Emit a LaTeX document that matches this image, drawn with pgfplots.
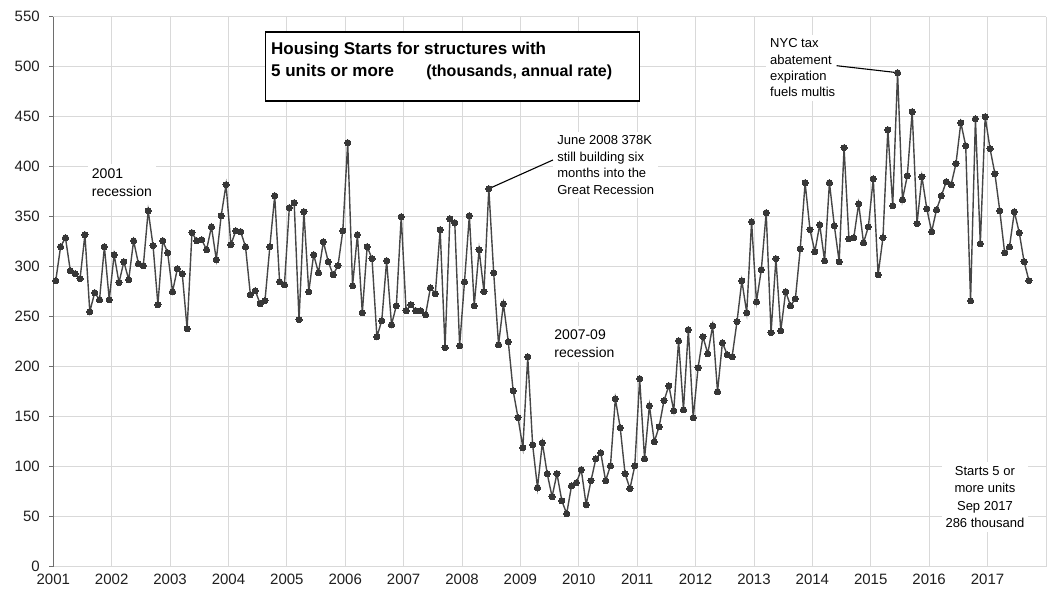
\documentclass[border=0pt]{standalone}
\usepackage{fontspec}
\setmainfont{Liberation Sans}
\usepackage{pgfplots}
\pgfplotsset{compat=1.18}
\usepackage{pgfplotstable}
\definecolor{gridgray}{RGB}{217,217,217}
\definecolor{axisgray}{RGB}{110,110,110}
\definecolor{linegray}{RGB}{70,70,70}
\definecolor{markgray}{RGB}{55,55,55}
\definecolor{textgray}{RGB}{30,30,30}

\pgfplotstableread[row sep=\\]{
v\\
286\\320\\329\\296\\293\\288\\332\\255\\274\\267\\320\\267\\
312\\284\\305\\287\\326\\303\\301\\356\\321\\262\\326\\314\\
275\\298\\293\\238\\334\\326\\327\\317\\340\\307\\351\\382\\
322\\336\\335\\320\\272\\276\\263\\266\\320\\371\\285\\282\\
359\\364\\247\\355\\275\\312\\294\\325\\305\\292\\301\\336\\
424\\281\\332\\254\\320\\308\\230\\246\\306\\242\\261\\350\\
256\\262\\256\\256\\252\\279\\273\\337\\219\\348\\344\\221\\
285\\351\\261\\317\\275\\378\\294\\222\\263\\225\\176\\149\\
119\\210\\122\\79\\124\\93\\70\\93\\66\\53\\81\\84\\
97\\62\\86\\108\\114\\86\\101\\168\\139\\93\\78\\101\\
188\\108\\161\\125\\140\\166\\181\\156\\226\\157\\237\\149\\
199\\230\\213\\241\\175\\224\\212\\210\\245\\286\\254\\345\\
265\\297\\354\\234\\308\\236\\275\\261\\268\\318\\384\\337\\
315\\342\\306\\384\\341\\305\\419\\328\\329\\363\\324\\340\\
388\\292\\329\\437\\361\\494\\367\\391\\455\\343\\390\\358\\
335\\357\\371\\385\\382\\403\\444\\421\\266\\448\\323\\450\\
418\\393\\356\\314\\320\\355\\334\\305\\286\\
}\starts

\begin{document}
\begin{tikzpicture}
\begin{axis}[
  name=ax,
  scale only axis,
  width=992.7pt, height=550pt,
  xmin=2001, xmax=2018, ymin=0, ymax=550,
  enlargelimits=false,
  clip=false,
  axis lines*=left,
  x axis line style={draw=gridgray, line width=0.8pt},
  y axis line style={draw=axisgray, line width=0.9pt},
  xtick={2001,2002,...,2017},
  extra x ticks={2018},
  extra x tick labels={},
  ytick={0,50,...,550},
  grid=major,
  major grid style={draw=gridgray, line width=0.8pt},
  xtick style={draw=none},
  ytick style={draw=axisgray, line width=0.9pt},
  tick align=outside,
  major tick length=4pt,
  ticklabel style={font=\fontsize{15}{15}\selectfont, text=textgray},
  /pgf/number format/assume math mode=true,
  xticklabel style={/pgf/number format/1000 sep={}},
  yticklabel style={xshift=-6pt},
]
\addplot[linegray, line width=1.4pt, mark=*, mark size=3.1pt,
  mark options={fill=markgray, draw=markgray, line width=0pt}]
  table[x expr={2001+(\coordindex+0.5)/12}, y=v] {\starts};

% title box
\draw[black, line width=1.6pt, fill=white] (axis cs:2004.637,534.4) rectangle (axis cs:2011.04,465.7);
\node[anchor=west, align=left, inner sep=0pt, font=\bfseries\fontsize{17}{21.7}\selectfont]
  at (axis cs:2004.728,505.9)
  {Housing Starts for structures with\\5 units or more\hspace{1.9em}{\fontsize{16}{21.7}\selectfont (thousands, annual rate)}};

% annotations
\node[anchor=west, align=left, fill=white, inner sep=4pt, font=\fontsize{14}{18}\selectfont]
  at (axis cs:2001.59,384.5) {2001\\recession};
\node[anchor=west, align=left, fill=white, inner sep=4pt, font=\fontsize{14}{18}\selectfont]
  at (axis cs:2009.51,222.7) {2007-09\\recession};
\node[anchor=west, align=left, fill=white, inner sep=4pt, font=\fontsize{13}{16.5}\selectfont]
  at (axis cs:2009.56,401.7) {June 2008 378K\\still building six\\months into the\\Great Recession};
\node[anchor=west, align=left, fill=white, inner sep=4pt, font=\fontsize{13}{16.3}\selectfont]
  at (axis cs:2013.205,499) {NYC tax\\abatement\\expiration\\fuels multis};
\node[align=center, fill=white, inner sep=4pt, font=\fontsize{13}{17.5}\selectfont]
  at (axis cs:2016.954,69.7) {Starts 5 or\\more units\\Sep 2017\\286 thousand};

\draw[black, line width=1.1pt] (axis cs:2008.458,378) -- (axis cs:2009.556,406.7);
\draw[black, line width=1.1pt] (axis cs:2014.414,501) -- (axis cs:2015.458,494);
\end{axis}
\pgfresetboundingbox
\path ([shift={(-53.3pt,-23.3pt)}]ax.south west) rectangle ([shift={(4pt,16.7pt)}]ax.north east);
\end{tikzpicture}
\end{document}
